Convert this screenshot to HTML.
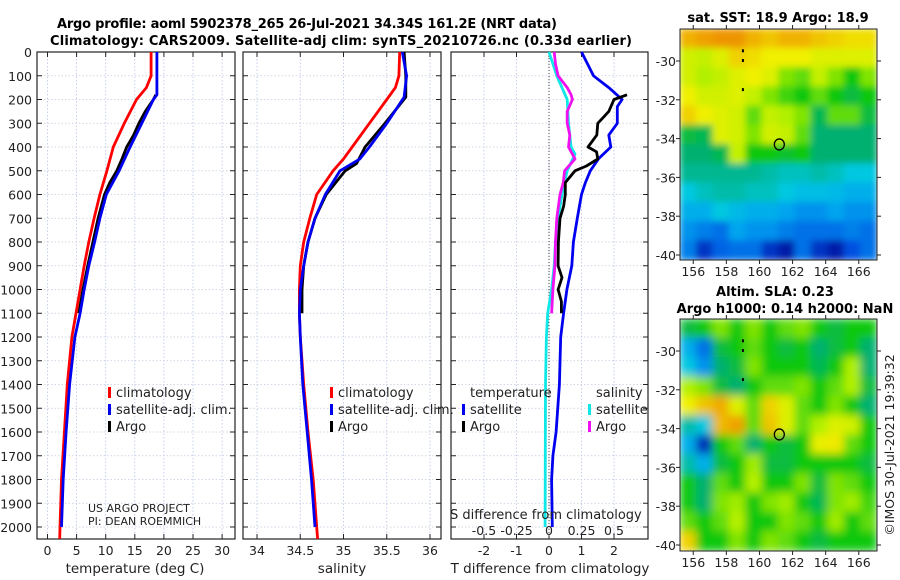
<!DOCTYPE html>
<html><head><meta charset="utf-8">
<style>
html,body{margin:0;padding:0;background:#fff;}
svg{display:block;font-family:"DejaVu Sans","Liberation Sans",sans-serif;}
</style></head>
<body>
<svg id="chart" width="900" height="580" viewBox="0 0 900 580" xmlns="http://www.w3.org/2000/svg">
<defs>
<clipPath id="clipMap1"><rect x="680" y="29" width="197" height="231"/></clipPath>
<clipPath id="clipMap2"><rect x="680" y="319" width="197" height="232"/></clipPath>
<filter id="blur1" x="-5%" y="-5%" width="110%" height="110%"><feGaussianBlur stdDeviation="3.5"/></filter>
<filter id="blur2" x="-5%" y="-5%" width="110%" height="110%"><feGaussianBlur stdDeviation="4.5"/></filter>
</defs>
<text x="57" y="28" font-size="13" font-weight="bold" textLength="500">Argo profile: aoml 5902378_265 26-Jul-2021 34.34S 161.2E (NRT data)</text>
<text x="50" y="45" font-size="13" font-weight="bold" textLength="582">Climatology: CARS2009. Satellite-adj clim: synTS_20210726.nc (0.33d earlier)</text>
<g id="g"></g>
</svg>
<script>
// ---------- data ----------
const depthTicks=[0,100,200,300,400,500,600,700,800,900,1000,1100,1200,1300,1400,1500,1600,1700,1800,1900,2000];
const tempTicks=[0,5,10,15,20,25,30];
const salTicks=[34,34.5,35,35.5,36];
const salTickLabels=["34","34.5","35","35.5","36"];
const tdiffTicks=[-2,-1,0,1,2];
const sdiffTicks=[-0.5,-0.25,0,0.25,0.5];
const sdiffTickLabels=["-0.5","-0.25","0","0.25","0.5"];

const tClimDepth=[0,100,150,200,300,400,500,600,700,800,900,1000,1100,1200,1400,1600,1800,2000,2050];
const tClimVal=[17.8,17.8,17.0,15.3,13.2,11.3,10.2,9.0,8.0,7.1,6.3,5.6,4.9,4.2,3.4,2.9,2.4,2.15,2.1];
const tSatDepth=[0,100,180,200,300,400,500,600,700,800,900,1000,1100,1200,1400,1600,1800,2000];
const tSatVal=[18.8,18.8,18.8,18.2,16.2,14.2,12.3,10.1,9.0,8.1,7.1,6.3,5.6,4.7,3.8,3.2,2.7,2.4];
const tArgoDepth=[180,200,250,300,350,400,450,500,550,600,700,800,900,1000,1100];
const tArgoVal=[18.6,18.2,16.8,15.7,14.8,13.6,12.8,11.9,10.7,9.8,8.7,7.8,6.9,6.1,5.4];

const sClimDepth=[0,100,150,200,300,400,450,500,600,700,800,900,1000,1100,1200,1400,1600,1800,2000,2050];
const sClimVal=[35.65,35.64,35.6,35.5,35.3,35.1,35.0,34.88,34.69,34.61,34.54,34.5,34.49,34.49,34.5,34.54,34.59,34.65,34.69,34.7];
const sSatDepth=[0,100,190,300,400,450,500,600,700,800,900,1000,1100,1200,1400,1600,1800,2000];
const sSatVal=[35.68,35.73,35.7,35.5,35.3,35.19,34.96,34.79,34.67,34.59,34.54,34.5,34.49,34.5,34.53,34.58,34.63,34.67];
const sArgoDepth=[0,100,190,300,400,470,500,600,700,800,900,1000,1100];
const sArgoVal=[35.7,35.72,35.72,35.48,35.25,35.15,35.02,34.8,34.67,34.59,34.54,34.52,34.52];

const dTSatDepth=[0,100,150,200,230,300,350,400,450,500,550,600,700,800,900,1000,1100,1200,1400,1600,1700,1800,2000];
const dTSatVal=[1.0,1.37,1.84,2.25,2.1,2.1,1.84,1.9,1.52,1.27,1.12,1.0,0.87,0.75,0.7,0.55,0.45,0.36,0.32,0.22,0.12,0.08,0.1];
const dTArgoDepth=[180,200,250,300,350,400,420,450,480,500,550,600,650,700,800,900,950,1000,1050,1100];
const dTArgoVal=[2.4,2.0,1.84,1.5,1.47,1.2,1.46,1.5,1.15,0.8,0.5,0.5,0.45,0.34,0.29,0.28,0.4,0.28,0.38,0.38];
const dSSatDepth=[0,100,200,300,400,430,500,600,700,800,900,1000,1100,1200,1400,2000];
const dSSatVal=[0.0,0.06,0.14,0.15,0.17,0.2,0.14,0.1,0.07,0.05,0.04,0.02,-0.01,-0.02,-0.027,-0.03];
const dSArgoDepth=[0,50,100,150,180,200,250,300,350,400,450,500,550,600,700,800,900,1000,1100];
const dSArgoVal=[0.04,0.05,0.07,0.14,0.17,0.18,0.14,0.14,0.16,0.15,0.2,0.12,0.11,0.085,0.06,0.05,0.045,0.03,0.02];

const mapLatTicks=[-30,-32,-34,-36,-38,-40];
const mapLonTicks=[156,158,160,162,164,166];
const sstGrid=[
[0.85,0.88,0.9,0.9,0.85,0.82,0.85,0.85,0.82,0.8,0.78,0.78],
[0.7,0.68,0.72,0.8,0.78,0.75,0.75,0.75,0.72,0.72,0.72,0.72],
[0.7,0.65,0.68,0.72,0.75,0.72,0.62,0.6,0.68,0.62,0.55,0.62],
[0.75,0.7,0.7,0.72,0.68,0.62,0.58,0.55,0.6,0.55,0.5,0.55],
[0.8,0.75,0.72,0.7,0.6,0.68,0.65,0.62,0.48,0.6,0.6,0.5],
[0.5,0.48,0.72,0.7,0.62,0.7,0.68,0.6,0.45,0.45,0.45,0.45],
[0.45,0.45,0.48,0.68,0.55,0.55,0.52,0.55,0.45,0.45,0.45,0.45],
[0.42,0.42,0.42,0.42,0.42,0.4,0.38,0.38,0.4,0.38,0.35,0.35],
[0.35,0.38,0.4,0.4,0.38,0.38,0.35,0.33,0.33,0.32,0.3,0.3],
[0.3,0.3,0.35,0.32,0.3,0.3,0.28,0.25,0.25,0.28,0.25,0.25],
[0.25,0.22,0.2,0.28,0.25,0.25,0.22,0.2,0.2,0.2,0.22,0.2],
[0.22,0.1,0.18,0.2,0.2,0.1,0.05,0.2,0.1,0.05,0.15,0.2]];
const slaGrid=[
[0.5,0.55,0.62,0.55,0.62,0.55,0.6,0.62,0.55,0.5,0.55,0.55],
[0.3,0.2,0.5,0.55,0.6,0.55,0.5,0.55,0.45,0.5,0.55,0.45],
[0.35,0.25,0.45,0.5,0.62,0.55,0.55,0.55,0.48,0.55,0.65,0.45],
[0.65,0.62,0.5,0.45,0.55,0.6,0.6,0.62,0.55,0.6,0.65,0.5],
[0.75,0.82,0.86,0.72,0.6,0.8,0.72,0.6,0.55,0.62,0.55,0.45],
[0.4,0.35,0.84,0.88,0.6,0.82,0.72,0.6,0.65,0.72,0.7,0.55],
[0.3,0.08,0.55,0.6,0.45,0.55,0.5,0.55,0.74,0.76,0.6,0.55],
[0.4,0.3,0.5,0.55,0.64,0.5,0.5,0.55,0.55,0.55,0.55,0.5],
[0.55,0.45,0.6,0.55,0.66,0.55,0.55,0.62,0.5,0.62,0.6,0.55],
[0.55,0.45,0.62,0.64,0.55,0.62,0.64,0.55,0.48,0.62,0.64,0.58],
[0.6,0.55,0.6,0.66,0.55,0.55,0.62,0.6,0.55,0.64,0.55,0.6],
[0.8,0.55,0.55,0.62,0.55,0.62,0.6,0.55,0.5,0.55,0.55,0.55]];
const floatLon=161.2, floatLat=-34.3;
const trackLon=[159,159,159];
const trackLat=[-29.5,-30,-31.5];

// ---------- helpers ----------
const NS="http://www.w3.org/2000/svg";
const G=document.getElementById('g');
function mk(tag,attrs,parent){const e=document.createElementNS(NS,tag);for(const k in attrs)e.setAttribute(k,attrs[k]);(parent||G).appendChild(e);return e;}
function txt(s,x,y,size,anchor,parent){const t=mk('text',{x:x,y:y,'font-size':size,'text-anchor':anchor||'middle',fill:'#222'},parent);t.textContent=s;return t;}

const TOP=52, BOT=539;
const yD=d=>TOP+d*0.2375;
const panels=[
 {name:'temperature-panel',x0:37,x1:235,f:v=>47.5+v*5.82},
 {name:'salinity-panel',x0:243,x1:441,f:v=>257+(v-34)*86.5},
 {name:'difference-panel',x0:451,x1:648,f:v=>549+v*32.5}
];
const sf=v=>549+v*4*32.5;

panels.forEach((p,i)=>{
  const g=mk('g',{});
  
  
  const ticks = i==0?tempTicks:(i==1?salTicks:tdiffTicks);
  ticks.forEach(t=>{const x=p.f(t);const l=mk('line',{x1:x,x2:x,y1:TOP,y2:BOT,stroke:'#b8c4ea','stroke-width':0.8,'stroke-dasharray':'1.5,2'},g);
    });
  depthTicks.forEach(d=>{const y=yD(d);const l=mk('line',{x1:p.x0,x2:p.x1,y1:y,y2:y,stroke:'#c8c8e0','stroke-width':0.8,'stroke-dasharray':'1.5,2'},g);
    
    mk('line',{x1:p.x0,x2:p.x0+5,y1:y,y2:y,stroke:'#222'},g);mk('line',{x1:p.x1,x2:p.x1-5,y1:y,y2:y,stroke:'#222'},g);});
  ticks.forEach(t=>{const x=p.f(t);mk('line',{x1:x,x2:x,y1:BOT,y2:BOT-5,stroke:'#222'},g);mk('line',{x1:x,x2:x,y1:TOP,y2:TOP+5,stroke:'#222'},g);});
  const fr=mk('rect',{x:p.x0,y:TOP,width:p.x1-p.x0,height:BOT-TOP,fill:'none',stroke:'#222','stroke-width':1.2},g);
  
  ticks.forEach((t,j)=>{const lab=i==1?salTickLabels[j]:String(t);const tt=txt(lab,p.f(t),555,12.5,'middle',g);
    });
});
depthTicks.forEach(d=>{const t=txt(String(d),32,yD(d)+5,12.5,'end');
  });
[['temperature (deg C)',135],['salinity',342],['T difference from climatology',550]].forEach(a=>{const t=txt(a[0],a[1],573,13.5);
  });
const zl=mk('line',{x1:549,x2:549,y1:TOP,y2:BOT,stroke:'#444','stroke-width':1,'stroke-dasharray':'1,2'});


function line(depths,vals,fx,color,name,w){
  const pts=depths.map((d,i)=>fx(vals[i]).toFixed(1)+','+yD(d).toFixed(1)).join(' ');
  const pl=mk('polyline',{points:pts,fill:'none',stroke:color,'stroke-width':w||2.8,'stroke-linejoin':'round'});
  
  
}
const ft=panels[0].f, fs=panels[1].f, fd=panels[2].f;
line(tClimDepth,tClimVal,ft,'#f00','temp-climatology-line');
line(tArgoDepth,tArgoVal,ft,'#000','temp-argo-line');
line(tSatDepth,tSatVal,ft,'#0000f0','temp-satellite-line');
line(sClimDepth,sClimVal,fs,'#f00','sal-climatology-line');
line(sArgoDepth,sArgoVal,fs,'#000','sal-argo-line');
line(sSatDepth,sSatVal,fs,'#0000f0','sal-satellite-line');
line(dSSatDepth,dSSatVal,sf,'#10e8e8','sdiff-satellite-line');
line(dSArgoDepth,dSArgoVal,sf,'#f010f0','sdiff-argo-line');
line(dTSatDepth,dTSatVal,fd,'#0000f0','tdiff-satellite-line');
line(dTArgoDepth,dTArgoVal,fd,'#000','tdiff-argo-line');

function leg(x,y,color,label,name){const g=mk('g',{});
  mk('rect',{x:x,y:y-10,width:3,height:11,fill:color},g);txt(label,x+8,y,13,'start',g);}
leg(108,397,'#f00','climatology','legend-climatology');
leg(108,414,'#0000f0','satellite-adj. clim.','legend-satellite-adj');
leg(108,431,'#000','Argo','legend-argo');
leg(330,397,'#f00','climatology','legend-climatology-sal');
leg(330,414,'#0000f0','satellite-adj. clim.','legend-satellite-adj-sal');
leg(330,431,'#000','Argo','legend-argo-sal');
let t=txt('temperature',470,397,13,'start');
t=txt('salinity',596,397,13,'start');
leg(462,414,'#0000f0','satellite','legend-t-satellite');
leg(462,431,'#000','Argo','legend-t-argo');
leg(588,414,'#10e8e8','satellite','legend-s-satellite');
leg(588,431,'#f010f0','Argo','legend-s-argo');
t=txt('S difference from climatology',450,519,13,'start');
sdiffTicks.forEach((v,j)=>{const tt=txt(sdiffTickLabels[j],sf(v),535,12.5);});
t=txt('US ARGO PROJECT',88,512,11,'start');
t=txt('PI: DEAN ROEMMICH',88,525,11,'start');

// ---------- maps ----------
const stops=[[0,[0,0,140]],[0.15,[0,80,224]],[0.27,[0,160,240]],[0.35,[0,200,224]],[0.45,[0,176,112]],[0.55,[16,200,16]],[0.65,[176,240,0]],[0.75,[240,240,0]],[0.88,[240,160,0]],[1,[224,96,0]]];
function cmap(v){for(let i=1;i<stops.length;i++){if(v<=stops[i][0]){const a=stops[i-1],b=stops[i];const f=(v-a[0])/(b[0]-a[0]);
  const c=a[1].map((x,k)=>Math.round(x+(b[1][k]-x)*f));return 'rgb('+c.join(',')+')';}}return 'rgb(224,96,0)';}
const LON0=155.2,LON1=167.1;
function drawMap(name,mx0,my0,mx1,my1,grid,clip,filt,latY){
  const fx=lon=>mx0+(lon-LON0)/(LON1-LON0)*(mx1-mx0);
  const fy=lat=>latY(lat);
  const g=mk('g',{});
  const cg=mk('g',{'clip-path':'url(#'+clip+')'},g);
  const ig=mk('g',{filter:'url(#'+filt+')'},cg);
  const nr=grid.length,nc=grid[0].length;
  const cw=(mx1-mx0)/nc;
  grid.forEach((row,r)=>row.forEach((v,c)=>{
    const yTop=my0+(my1-my0)*r/nr, h=(my1-my0)/nr;
    const re=mk('rect',{x:(mx0+c*cw-0.5).toFixed(1),y:(yTop-0.5).toFixed(1),width:(cw+1).toFixed(1),height:(h+1).toFixed(1),fill:cmap(v)},ig);
    
    
  }));
  trackLon.forEach((lo,i)=>{mk('rect',{x:fx(lo)-1,y:fy(trackLat[i])-2,width:2,height:3,fill:'#000'},cg);});
  const c=mk('ellipse',{cx:fx(floatLon),cy:fy(floatLat),rx:5,ry:5.5,fill:'none',stroke:'#000','stroke-width':1.3},g);
  
  mk('rect',{x:mx0,y:my0,width:mx1-mx0,height:my1-my0,fill:'none',stroke:'#222','stroke-width':1},g);
  mapLatTicks.forEach(la=>{const y=fy(la);mk('line',{x1:mx0,x2:mx0-4,y1:y,y2:y,stroke:'#222'},g);mk('line',{x1:mx1,x2:mx1+4,y1:y,y2:y,stroke:'#222'},g);
    const tt=txt(String(la),676,y+5,12.5,'end',g);});
  mapLonTicks.forEach(lo=>{const x=fx(lo);mk('line',{x1:x,x2:x,y1:my1,y2:my1+4,stroke:'#222'},g);mk('line',{x1:x,x2:x,y1:my0,y2:my0-4,stroke:'#222'},g);
    const tt=txt(String(lo),x,my1+16,12.5,'middle',g);});
}
drawMap('sst-map',680,29,877,260,sstGrid,'clipMap1','blur1',lat=>61+(-30-lat)*19.4);
drawMap('sla-map',680,319,877,551,slaGrid,'clipMap2','blur2',lat=>351+(-30-lat)*19.4);
t=txt('sat. SST: 18.9 Argo: 18.9',778,22,13,'middle');t.setAttribute('font-weight','bold');t.setAttribute('fill','#000');

t=txt('Altim. SLA: 0.23',775,296,13,'middle');t.setAttribute('font-weight','bold');t.setAttribute('fill','#000');

t=txt('Argo h1000: 0.14 h2000: NaN',785,313,13,'middle');t.setAttribute('font-weight','bold');t.setAttribute('fill','#000');

t=txt('©IMOS 30-Jul-2021 19:39:32',0,0,12.5,'middle');t.setAttribute('transform','translate(894,445) rotate(-90)');

</script>
</body></html>
